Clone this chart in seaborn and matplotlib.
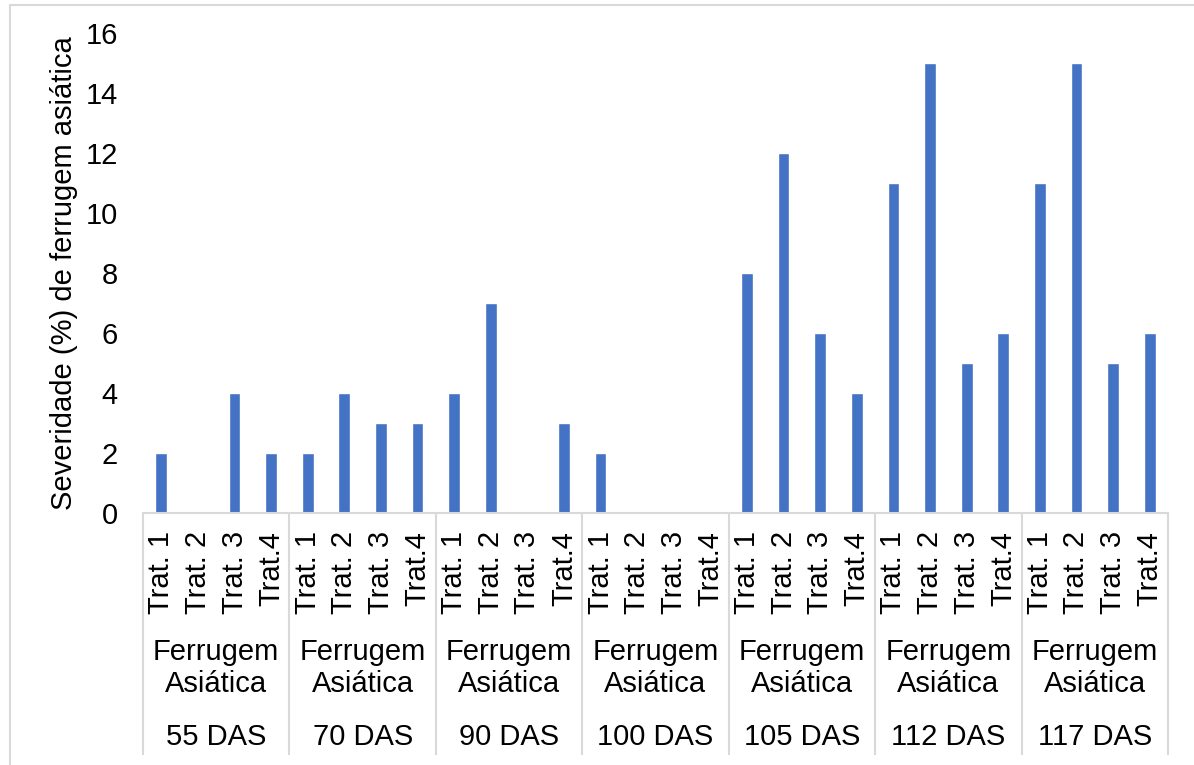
import matplotlib
matplotlib.use("Agg")
import matplotlib.pyplot as plt
import matplotlib.transforms as mtransforms
import seaborn as sns
import pandas as pd

# Data: rust severity per treatment at each sampling date
dates = ["55 DAS", "70 DAS", "90 DAS", "100 DAS", "105 DAS", "112 DAS", "117 DAS"]
treatments = ["Trat. 1", "Trat. 2", "Trat. 3", "Trat.4"]
disease_label = "Ferrugem\nAsiática"
severity = [
    [2, 0, 4, 2],
    [2, 4, 3, 3],
    [4, 7, 0, 3],
    [2, 0, 0, 0],
    [8, 12, 6, 4],
    [11, 15, 5, 6],
    [11, 15, 5, 6],
]
y_ticks = [0, 2, 4, 6, 8, 10, 12, 14, 16]
y_label = "Severidade (%) de ferrugem asiática"

rows = []
for d, vals in zip(dates, severity):
    for t, v in zip(treatments, vals):
        rows.append({"key": f"{d}|{t}", "date": d, "trat": t, "sev": v})
df = pd.DataFrame(rows)
order = list(df["key"])

sns.set_theme(style="white")
plt.rcParams["font.family"] = ["Liberation Sans", "DejaVu Sans"]

FS = 21
GRID = "#D9D9D9"
BLUE = "#4472C4"

fig = plt.figure(figsize=(11.94, 7.65), dpi=100)
ax = fig.add_axes([143 / 1194, 1 - 513 / 765, (1168 - 143) / 1194, (513 - 33) / 765])

sns.barplot(data=df, x="key", y="sev", order=order, color=BLUE,
            saturation=1, width=0.32, ax=ax, errorbar=None)

ax.set_xlim(-0.5, len(order) - 0.5)
ax.set_ylim(0, 16)
ax.set_yticks(y_ticks)
ax.set_yticklabels([str(v) for v in y_ticks], fontsize=FS, color="black")
ax.set_xticks(range(len(order)))
ax.set_xticklabels(list(df["trat"]), rotation=90, fontsize=FS, color="black")
ax.tick_params(axis="x", length=0, pad=13)
ax.tick_params(axis="y", length=0, pad=18)
ax.set_xlabel("")
ax.set_ylabel("")

for side in ["top", "right", "left"]:
    ax.spines[side].set_visible(False)
ax.spines["bottom"].set_color(GRID)
ax.spines["bottom"].set_linewidth(1.5)

# Multi-level category axis: separators and group labels
trans = mtransforms.blended_transform_factory(ax.transData, ax.transAxes)
n_t = len(treatments)
for g in range(len(dates) + 1):
    xb = g * n_t - 0.5
    ax.plot([xb, xb], [0, -0.504], transform=trans, color=GRID, lw=1.5,
            clip_on=False, solid_capstyle="butt")
for g, d in enumerate(dates):
    xc = g * n_t + (n_t - 1) / 2
    ax.text(xc, -0.323, disease_label, transform=trans, ha="center", va="center",
            fontsize=FS, color="black", linespacing=1.15)
    ax.text(xc, -0.467, d, transform=trans, ha="center", va="center",
            fontsize=FS, color="black")

fig.text(64 / 1194, 1 - 273 / 765, y_label, rotation=90, ha="center", va="center",
         fontsize=FS, color="black")

# Chart area border
bx = 10 / 1194
by = 1 - 5 / 765
fig.add_artist(plt.Line2D([bx, 1.0], [by, by], transform=fig.transFigure, color=GRID, lw=1.5))
fig.add_artist(plt.Line2D([bx, bx], [0.0, by], transform=fig.transFigure, color=GRID, lw=1.5))

fig.savefig("out.png", dpi=100)
